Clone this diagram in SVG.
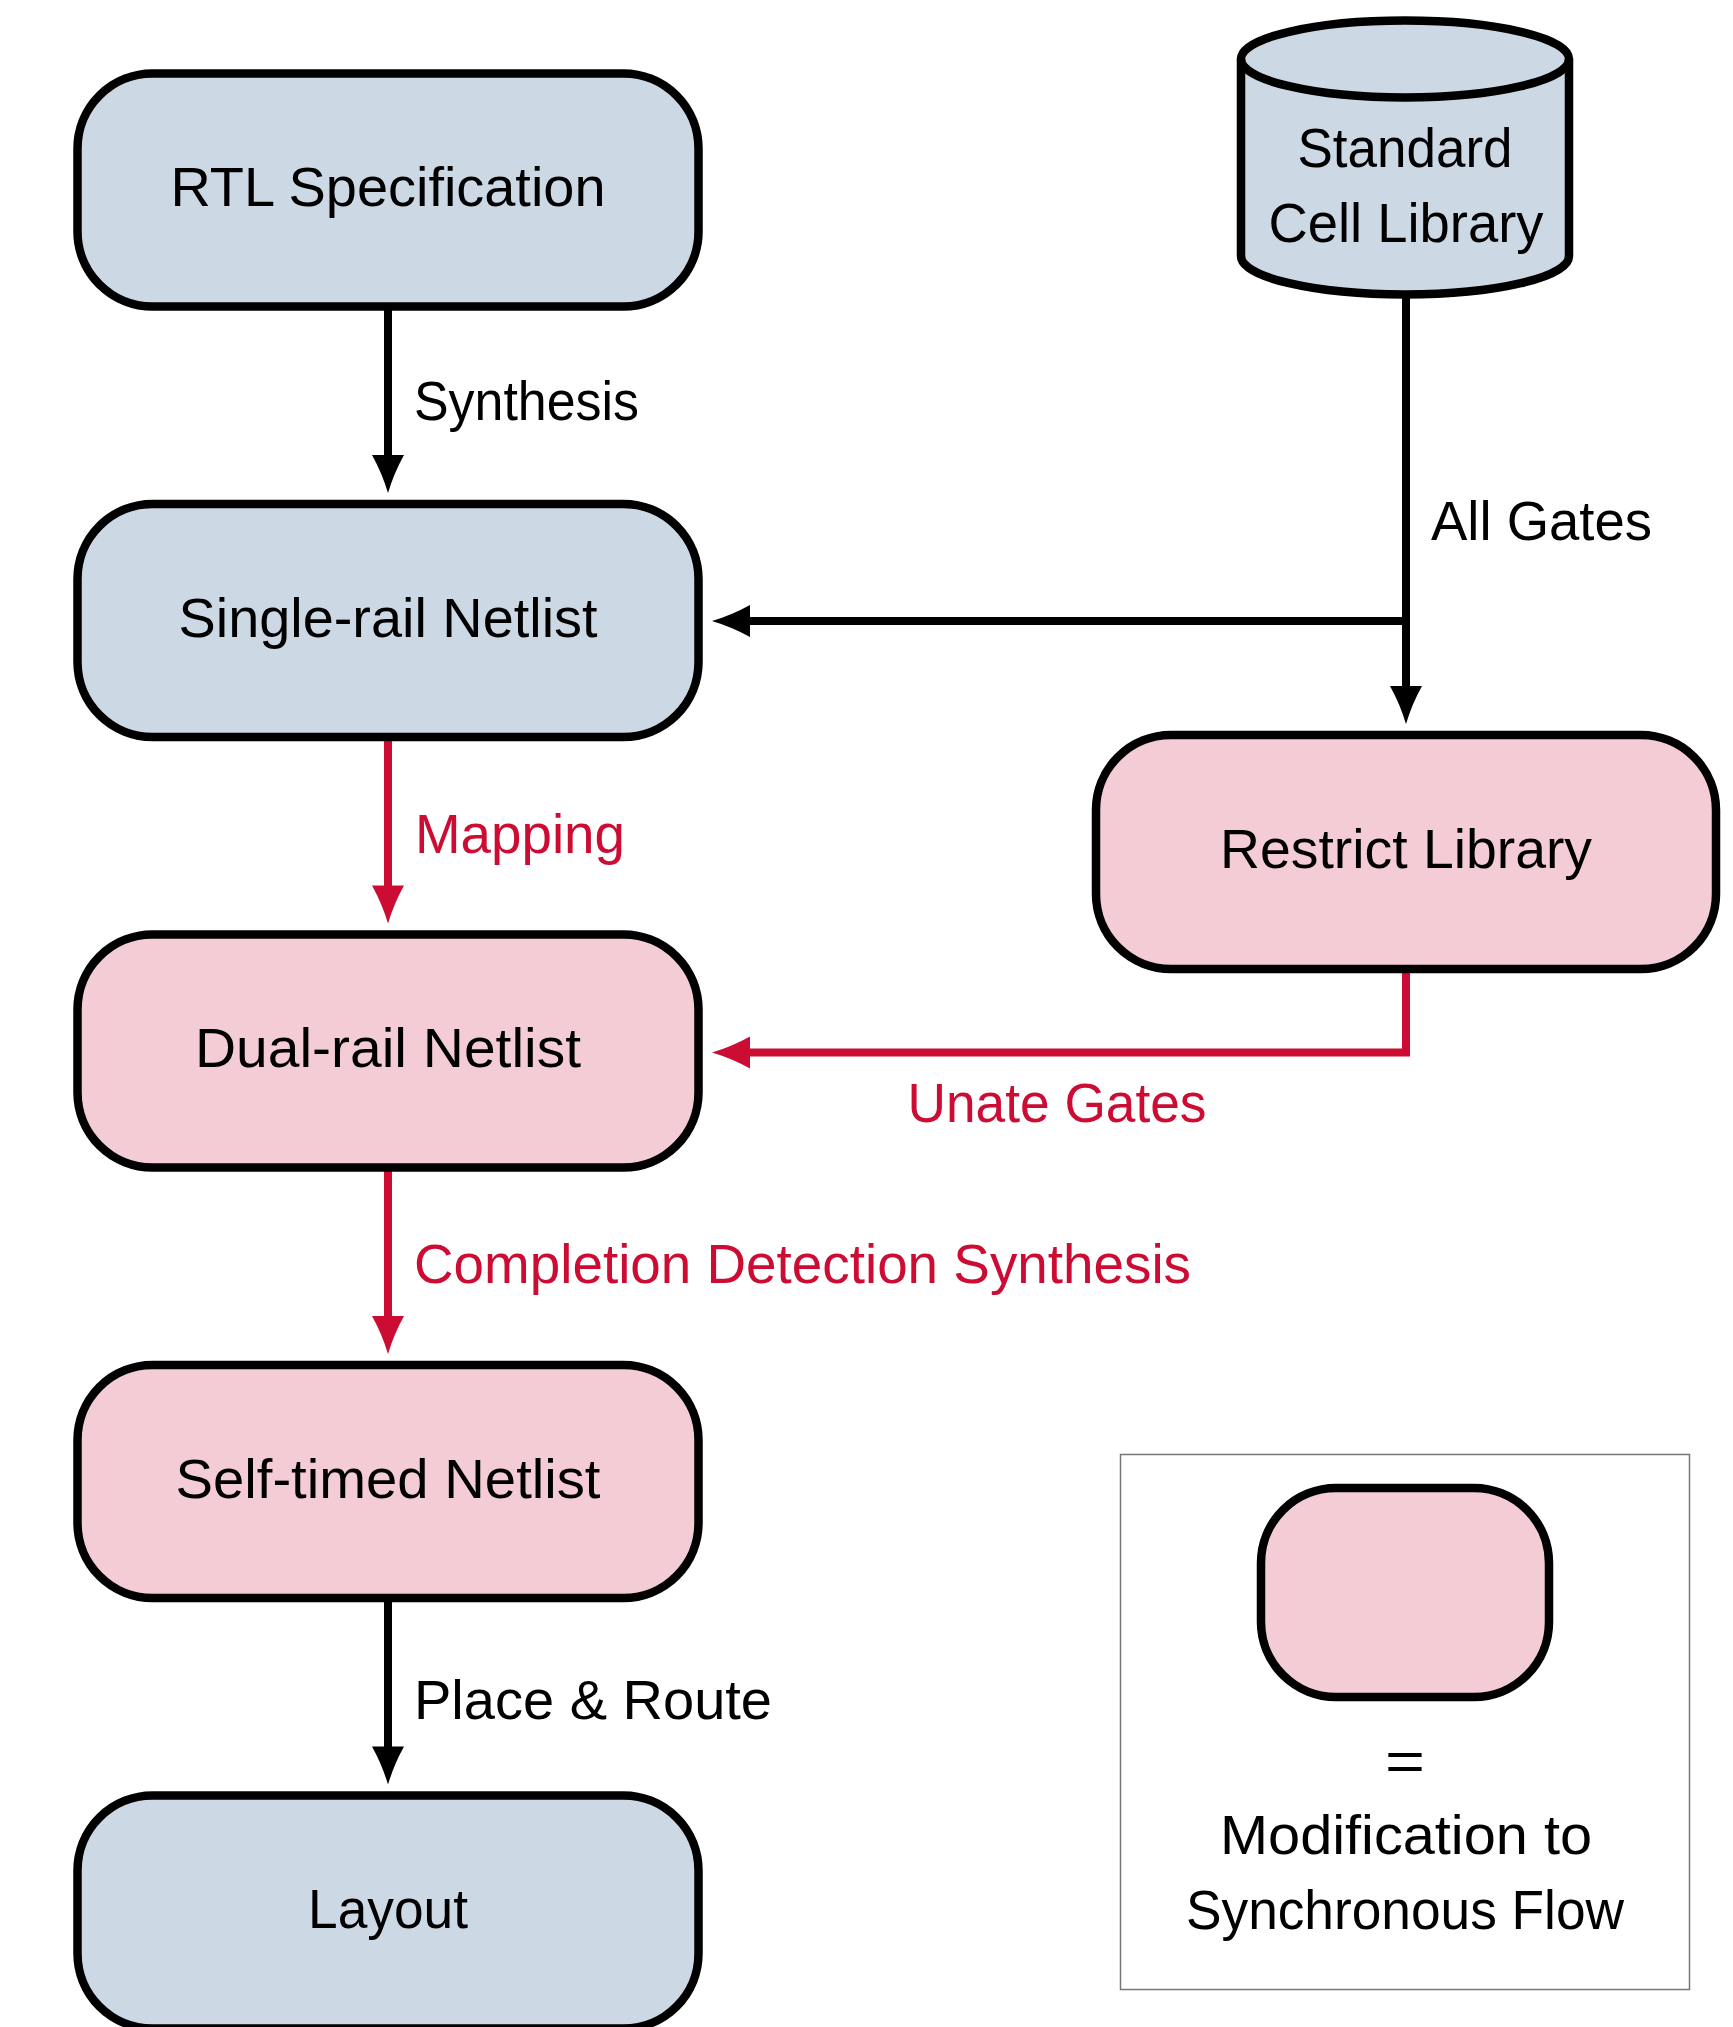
<svg xmlns="http://www.w3.org/2000/svg" width="1733" height="2027" viewBox="0 0 1733 2027">
<style>
.box{stroke:#000;stroke-width:8.5}
.blue{fill:#CCD8E4}
.pink{fill:#F4CCD5}
.t{font-family:"Liberation Sans",Arial,sans-serif;font-size:56px;fill:#000}
.c{text-anchor:middle}
.red{fill:#CC0C33}
.conn{fill:none;stroke-width:8;stroke-linejoin:miter}
.k{stroke:#000}
.r{stroke:#CC0C33}
</style>
<defs>
<marker id="ak" markerUnits="userSpaceOnUse" markerWidth="44" markerHeight="36" viewBox="0 -18 44 36" refX="8" refY="0" orient="auto" overflow="visible">
<path d="M0,-16 Q18,-6 38,0 Q18,6 0,16 Z" fill="#000"/>
</marker>
<marker id="ar" markerUnits="userSpaceOnUse" markerWidth="44" markerHeight="36" viewBox="0 -18 44 36" refX="8" refY="0" orient="auto" overflow="visible">
<path d="M0,-16 Q18,-6 38,0 Q18,6 0,16 Z" fill="#CC0C33"/>
</marker>
</defs>
<rect width="1733" height="2027" fill="#fff"/>

<g id="connectors">
<path class="conn k" d="M388,306.5 V463" marker-end="url(#ak)"/>
<path class="conn r" d="M388,737 V893.5" marker-end="url(#ar)"/>
<path class="conn r" d="M388,1168 V1324" marker-end="url(#ar)"/>
<path class="conn k" d="M388,1598 V1754.5" marker-end="url(#ak)"/>
<path class="conn k" d="M1406,296 V694" marker-end="url(#ak)"/>
<path class="conn k" d="M1410,621 H742" marker-end="url(#ak)"/>
<path class="conn r" d="M1406,969 V1052.5 H742" marker-end="url(#ar)"/>
<text class="t" x="414" y="420" textLength="225" lengthAdjust="spacingAndGlyphs">Synthesis</text>
<text class="t" x="1431" y="540" textLength="221" lengthAdjust="spacingAndGlyphs">All Gates</text>
<text class="t red" x="415" y="853" textLength="210" lengthAdjust="spacingAndGlyphs">Mapping</text>
<text class="t red c" x="1057" y="1122" textLength="299" lengthAdjust="spacingAndGlyphs">Unate Gates</text>
<text class="t red" x="414" y="1283" textLength="777" lengthAdjust="spacingAndGlyphs">Completion Detection Synthesis</text>
<text class="t" x="414" y="1719" textLength="358" lengthAdjust="spacingAndGlyphs">Place &amp; Route</text>
</g>

<g id="rtl">
<rect class="box blue" x="77.5" y="73.5" width="621" height="233" rx="75"/>
<text class="t c" x="388" y="206" textLength="435" lengthAdjust="spacingAndGlyphs">RTL Specification</text>
</g>

<g id="stdlib">
<path class="box blue" d="M1241,59 A164,38.5 0 0,1 1569,59 V256 A164,38.5 0 0,1 1241,256 Z"/>
<path class="box" fill="none" d="M1241,59 A164,38.5 0 0,0 1569,59"/>
<text class="t c" x="1405" y="167" textLength="215" lengthAdjust="spacingAndGlyphs">Standard</text>
<text class="t c" x="1406" y="242" textLength="275" lengthAdjust="spacingAndGlyphs">Cell Library</text>
</g>

<g id="single">
<rect class="box blue" x="77.5" y="504" width="621" height="233" rx="75"/>
<text class="t c" x="388" y="636.5" textLength="419" lengthAdjust="spacingAndGlyphs">Single-rail Netlist</text>
</g>

<g id="restrict">
<rect class="box pink" x="1096" y="735" width="620" height="234" rx="75"/>
<text class="t c" x="1406" y="867.5" textLength="372" lengthAdjust="spacingAndGlyphs">Restrict Library</text>
</g>

<g id="dual">
<rect class="box pink" x="77.5" y="934.5" width="621" height="233" rx="75"/>
<text class="t c" x="388" y="1067" textLength="386" lengthAdjust="spacingAndGlyphs">Dual-rail Netlist</text>
</g>

<g id="selftimed">
<rect class="box pink" x="77.5" y="1365" width="621" height="233" rx="75"/>
<text class="t c" x="388" y="1497.5" textLength="425" lengthAdjust="spacingAndGlyphs">Self-timed Netlist</text>
</g>

<g id="layout">
<rect class="box blue" x="77.5" y="1795.5" width="621" height="233" rx="75"/>
<text class="t c" x="388" y="1928" textLength="160" lengthAdjust="spacingAndGlyphs">Layout</text>
</g>

<g id="legend">
<rect x="1120.5" y="1454.5" width="569" height="535" fill="#fff" stroke="#777" stroke-width="1.5"/>
<rect class="box pink" x="1261" y="1488" width="288" height="209" rx="75"/>
<text class="t c" x="1405" y="1780" textLength="40" lengthAdjust="spacingAndGlyphs">=</text>
<text class="t c" x="1406" y="1854" textLength="372" lengthAdjust="spacingAndGlyphs">Modification to</text>
<text class="t c" x="1405" y="1929" textLength="438" lengthAdjust="spacingAndGlyphs">Synchronous Flow</text>
</g>
</svg>
